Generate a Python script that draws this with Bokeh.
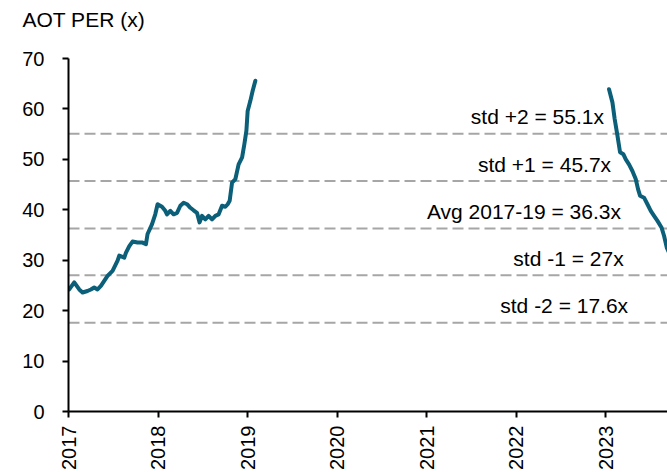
from bokeh.plotting import figure
from bokeh.models import FixedTicker, Range1d, Title
from bokeh.core.properties import value
from bokeh.embed import file_html
from bokeh.resources import INLINE
import math

# ---- data ----
years1 = [2017.008, 2017.064, 2017.12, 2017.157, 2017.212, 2017.25, 2017.287, 2017.324,
          2017.362, 2017.399, 2017.436, 2017.492, 2017.548, 2017.567, 2017.623, 2017.642,
          2017.679, 2017.715, 2017.771, 2017.827, 2017.865, 2017.883, 2017.932, 2017.969,
          2017.995, 2018.044, 2018.081, 2018.1, 2018.137, 2018.174, 2018.212, 2018.249,
          2018.286, 2018.324, 2018.361, 2018.397, 2018.435, 2018.464, 2018.491, 2018.528,
          2018.565, 2018.603, 2018.64, 2018.677, 2018.715, 2018.752, 2018.778, 2018.8,
          2018.827, 2018.864, 2018.9, 2018.939, 2018.964, 2018.987, 2019.001, 2019.031,
          2019.057, 2019.087]
per1 = [24.2, 25.6, 24.2, 23.6, 23.9, 24.2, 24.6, 24.2,
        24.9, 25.9, 26.9, 27.9, 29.9, 30.9, 30.5, 31.5,
        32.8, 33.7, 33.5, 33.5, 33.2, 35.2, 37.1, 39.1,
        41.1, 40.6, 39.8, 39.1, 39.8, 39.1, 39.4, 40.8,
        41.4, 41.1, 40.4, 39.9, 39.4, 37.5, 38.8, 38.1,
        38.8, 38.1, 38.8, 39.1, 40.8, 40.6, 41.1, 41.8,
        45.4, 46.1, 49.0, 50.4, 53.0, 55.7, 59.6, 61.6,
        63.6, 65.6]

years2 = [2023.037, 2023.075, 2023.1, 2023.131, 2023.16, 2023.198, 2023.224, 2023.26,
          2023.298, 2023.335, 2023.361, 2023.383, 2023.428, 2023.466, 2023.503, 2023.54,
          2023.578, 2023.623, 2023.652, 2023.682, 2023.72]
per2 = [63.9, 61.3, 58.0, 54.7, 51.4, 51.0, 50.0, 49.0,
        47.7, 46.1, 44.1, 42.8, 42.4, 41.1, 39.8, 38.8,
        37.8, 36.5, 34.8, 32.5, 31.0]

band_levels = [55.1, 45.7, 36.3, 27.0, 17.6]
band_labels = ["std +2 = 55.1x", "std +1 = 45.7x", "Avg 2017-19 = 36.3x",
               "std -1 = 27x", "std -2 = 17.6x"]

x_ticks = [2017, 2018, 2019, 2020, 2021, 2022, 2023]
y_ticks = [0, 10, 20, 30, 40, 50, 60, 70]
axis_title = "AOT PER (x)"

# ---- styling ----
FONT = "Liberation Sans"
LINE_COLOR = "#0b5f78"
DASH_COLOR = "#a6a6a6"

p = figure(width=667, height=472, output_backend="svg", toolbar_location=None,
           x_range=Range1d(2017.0, 2023.69), y_range=Range1d(0, 70),
           min_border_left=68, min_border_right=0, min_border_top=57,
           min_border_bottom=61)
p.outline_line_color = None
p.background_fill_color = "white"
p.border_fill_color = "white"
p.xgrid.visible = False
p.ygrid.visible = False

# spacer panel between frame and the title, then the title itself
p.add_layout(Title(text=" ", text_font_size="1px", standoff=20), "above")
p.add_layout(Title(text=axis_title, text_font=FONT, text_font_size="21px",
                   text_font_style="normal", text_color="#000000",
                   align="left", vertical_align="bottom", offset=-46, standoff=10), "above")

# dashed reference lines
for lvl in band_levels:
    p.line(x=[2017.0, 2023.69], y=[lvl, lvl], line_color=DASH_COLOR,
           line_width=2, line_dash="11 5")

# annotation labels (right-aligned anchors)
label_right = [2022.98, 2023.06, 2023.17, 2023.20, 2023.25]
p.text(x=label_right, y=band_levels, text=band_labels,
       text_font=value(FONT), text_font_size="21px", text_color="#000000",
       text_align="right", text_baseline="alphabetic", y_offset=-17)

p.line(years1, per1, line_color=LINE_COLOR, line_width=4, line_join="round", line_cap="round")
p.line(years2, per2, line_color=LINE_COLOR, line_width=4, line_join="round", line_cap="round")

for ax in (p.xaxis[0], p.yaxis[0]):
    ax.axis_line_color = "#000000"
    ax.axis_line_width = 2
    ax.major_tick_line_color = "#000000"
    ax.major_tick_line_width = 2
    ax.major_tick_out = 6
    ax.major_tick_in = 0
    ax.minor_tick_line_color = None
    ax.major_label_text_font = FONT
    ax.major_label_text_font_size = "20px"
    ax.major_label_text_color = "#000000"

p.xaxis[0].ticker = FixedTicker(ticks=x_ticks)
p.xaxis[0].major_label_orientation = math.pi / 2
p.xaxis[0].major_label_standoff = 8
p.yaxis[0].ticker = FixedTicker(ticks=y_ticks)
p.yaxis[0].major_label_standoff = 18

open("out.html", "w").write(file_html(p, INLINE))
